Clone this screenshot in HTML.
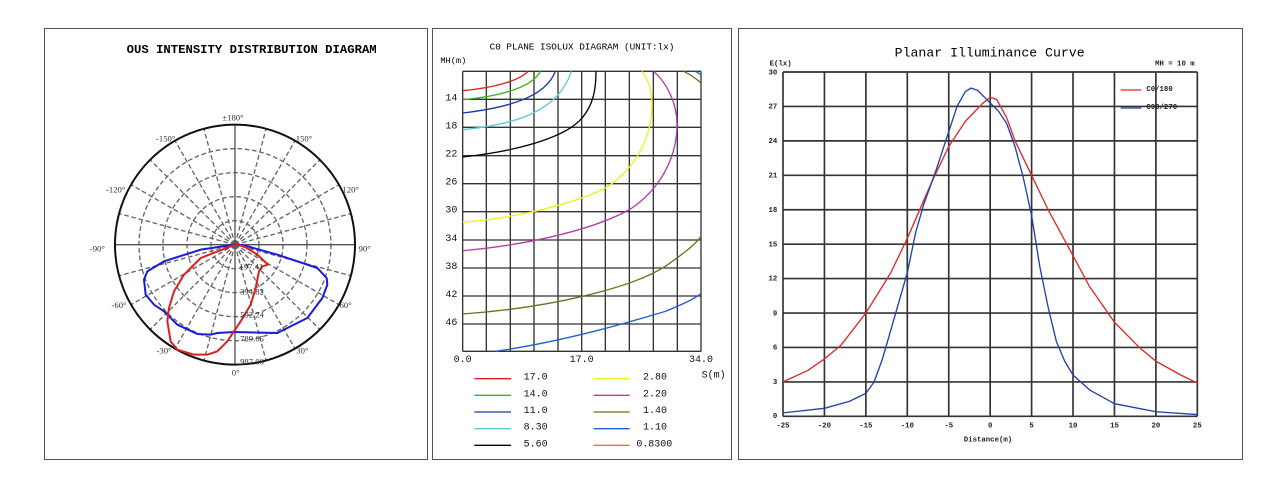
<!DOCTYPE html><html><head><meta charset="utf-8"><style>html,body{margin:0;padding:0;background:#fff;width:1277px;height:488px;overflow:hidden}</style></head><body>
<svg width="1277" height="488" viewBox="0 0 1277 488" xmlns="http://www.w3.org/2000/svg">
<rect x="44.5" y="28.5" width="383" height="431" fill="none" stroke="#555"/>
<rect x="432.5" y="28.5" width="299" height="431" fill="none" stroke="#555"/>
<rect x="738.5" y="28.5" width="504" height="431" fill="none" stroke="#555"/>

<!-- Panel 1 -->
<g transform="translate(44,28) scale(0.33333)">
<text x="623" y="75" text-anchor="middle" font-family="Liberation Mono,monospace" font-weight="bold" font-size="35" textLength="750" lengthAdjust="spacingAndGlyphs">OUS INTENSITY DISTRIBUTION DIAGRAM</text>
<g fill="none" stroke="#666" stroke-width="4" stroke-dasharray="14,8">
<circle cx="573" cy="650" r="72"/><circle cx="573" cy="650" r="144"/><circle cx="573" cy="650" r="216"/><circle cx="573" cy="650" r="288"/>
<g transform="translate(573,650)">
<line x1="0" y1="0" x2="0" y2="360" transform="rotate(15)"/><line x1="0" y1="0" x2="0" y2="360" transform="rotate(30)"/><line x1="0" y1="0" x2="0" y2="360" transform="rotate(45)"/><line x1="0" y1="0" x2="0" y2="360" transform="rotate(60)"/><line x1="0" y1="0" x2="0" y2="360" transform="rotate(75)"/><line x1="0" y1="0" x2="0" y2="360" transform="rotate(105)"/><line x1="0" y1="0" x2="0" y2="360" transform="rotate(120)"/><line x1="0" y1="0" x2="0" y2="360" transform="rotate(135)"/><line x1="0" y1="0" x2="0" y2="360" transform="rotate(150)"/><line x1="0" y1="0" x2="0" y2="360" transform="rotate(165)"/><line x1="0" y1="0" x2="0" y2="360" transform="rotate(195)"/><line x1="0" y1="0" x2="0" y2="360" transform="rotate(210)"/><line x1="0" y1="0" x2="0" y2="360" transform="rotate(225)"/><line x1="0" y1="0" x2="0" y2="360" transform="rotate(240)"/><line x1="0" y1="0" x2="0" y2="360" transform="rotate(255)"/><line x1="0" y1="0" x2="0" y2="360" transform="rotate(285)"/><line x1="0" y1="0" x2="0" y2="360" transform="rotate(300)"/><line x1="0" y1="0" x2="0" y2="360" transform="rotate(315)"/><line x1="0" y1="0" x2="0" y2="360" transform="rotate(330)"/><line x1="0" y1="0" x2="0" y2="360" transform="rotate(345)"/>
</g></g>
<line x1="213" y1="650" x2="933" y2="650" stroke="#555" stroke-width="4"/>
<line x1="573" y1="290" x2="573" y2="1010" stroke="#555" stroke-width="4"/>
<circle cx="573" cy="650" r="360" fill="none" stroke="#111" stroke-width="6"/>
<path d="M573,650 L470,665 L360,700 L310,730 L300,755 L305,800 L330,830 L360,850 L400,890 L460,918 L500,920 L520,915 L570,912 L700,915 L790,870 L835,810 L850,770 L848,750 L820,720 L700,680 L600,652 Z" fill="none" stroke="#1a1adc" stroke-width="6" stroke-linejoin="round"/>
<path d="M573,650 L470,690 L420,740 L390,790 L375,840 L370,880 L380,940 L400,965 L450,980 L490,980 L520,970 L550,940 L590,880 L620,830 L635,780 L645,730 L655,715 L672,710 L640,680 L600,655 Z" fill="none" stroke="#dc2020" stroke-width="6" stroke-linejoin="round"/>
<g font-family="Liberation Serif,serif" font-size="26" fill="#333">
<text x="567" y="277" text-anchor="middle">±180°</text>
<text x="365" y="340" text-anchor="middle">-150°</text><text x="780" y="340" text-anchor="middle">150°</text>
<text x="215" y="494" text-anchor="middle">-120°</text><text x="920" y="494" text-anchor="middle">120°</text>
<text x="160" y="670" text-anchor="middle">-90°</text><text x="962" y="670" text-anchor="middle">90°</text>
<text x="225" y="840" text-anchor="middle">-60°</text><text x="905" y="840" text-anchor="middle">60°</text>
<text x="360" y="977" text-anchor="middle">-30°</text><text x="775" y="977" text-anchor="middle">30°</text>
<text x="575" y="1042" text-anchor="middle">0°</text>
<text x="622" y="724" text-anchor="middle">197.41</text><text x="624" y="799" text-anchor="middle">394.82</text><text x="624" y="868" text-anchor="middle">592.24</text><text x="624" y="940" text-anchor="middle">789.65</text><text x="624" y="1010" text-anchor="middle">987.06</text>
</g>
</g>

<!-- Panel 2 -->
<g transform="translate(432,28) scale(0.33333)">
<text x="450" y="65" text-anchor="middle" font-family="Liberation Mono,monospace" font-size="28">C0 PLANE ISOLUX DIAGRAM (UNIT:lx)</text>
<text x="25" y="105" font-family="Liberation Mono,monospace" font-size="26">MH(m)</text>
<g stroke="#333" stroke-width="4">
<line x1="92" y1="130" x2="92" y2="970"/><line x1="163" y1="130" x2="163" y2="970"/><line x1="235" y1="130" x2="235" y2="970"/><line x1="306" y1="130" x2="306" y2="970"/><line x1="378" y1="130" x2="378" y2="970"/><line x1="449" y1="130" x2="449" y2="970"/><line x1="520" y1="130" x2="520" y2="970"/><line x1="592" y1="130" x2="592" y2="970"/><line x1="664" y1="130" x2="664" y2="970"/><line x1="736" y1="130" x2="736" y2="970"/><line x1="807" y1="130" x2="807" y2="970"/>
<line x1="92" y1="130" x2="807" y2="130"/><line x1="92" y1="214" x2="807" y2="214"/><line x1="92" y1="298" x2="807" y2="298"/><line x1="92" y1="383" x2="807" y2="383"/><line x1="92" y1="467" x2="807" y2="467"/><line x1="92" y1="551" x2="807" y2="551"/><line x1="92" y1="636" x2="807" y2="636"/><line x1="92" y1="720" x2="807" y2="720"/><line x1="92" y1="804" x2="807" y2="804"/><line x1="92" y1="888" x2="807" y2="888"/><line x1="92" y1="970" x2="807" y2="970"/>
</g>
<g fill="none" stroke-width="4">
<path d="M92,188 C180,180 260,160 288,130" stroke="#e02020"/>
<path d="M92,215 C200,205 300,180 325,130" stroke="#40b020"/>
<path d="M92,255 C220,240 340,210 370,130" stroke="#1a3ab0"/>
<path d="M92,305 C250,290 380,250 418,130" stroke="#5cc8d8"/>
<path d="M92,387 C250,370 400,330 450,270 C485,230 492,180 492,130" stroke="#000"/>
<path d="M92,583 C250,570 420,530 520,480 C600,430 660,340 660,230 C660,180 645,150 630,130" stroke="#f0f020"/>
<path d="M92,668 C300,650 500,600 600,540 C700,470 735,370 735,290 C735,220 700,160 665,130" stroke="#b040a8"/>
<path d="M92,858 C350,840 600,780 700,715 C750,680 790,650 807,625" stroke="#707020"/>
<path d="M755,130 Q785,145 807,165" stroke="#707020"/>
<path d="M190,970 C400,940 600,880 700,850 C750,830 790,810 807,797" stroke="#2060d0"/>
<path d="M790,130 L807,140" stroke="#2060d0"/>
</g>
<g font-family="Liberation Mono,monospace" font-size="30" fill="#111">
<text x="40" y="217">14</text><text x="40" y="301">18</text><text x="40" y="386">22</text><text x="40" y="470">26</text><text x="40" y="554">30</text><text x="40" y="639">34</text><text x="40" y="723">38</text><text x="40" y="807">42</text><text x="40" y="891">46</text>
<text x="92" y="1002" text-anchor="middle">0.0</text><text x="449" y="1002" text-anchor="middle">17.0</text><text x="807" y="1002" text-anchor="middle">34.0</text>
<text x="845" y="1048" text-anchor="middle">S(m)</text>
<text x="275" y="1055">17.0</text><text x="275" y="1105">14.0</text><text x="275" y="1155">11.0</text><text x="275" y="1205">8.30</text><text x="275" y="1255">5.60</text>
<text x="633" y="1055">2.80</text><text x="633" y="1105">2.20</text><text x="633" y="1155">1.40</text><text x="633" y="1205">1.10</text><text x="613" y="1255">0.8300</text>
</g>
<g stroke-width="4">
<line x1="127" y1="1052" x2="237" y2="1052" stroke="#e02020"/><line x1="127" y1="1102" x2="237" y2="1102" stroke="#40b020"/><line x1="127" y1="1152" x2="237" y2="1152" stroke="#1a3ab0"/><line x1="127" y1="1202" x2="237" y2="1202" stroke="#5cc8d8"/><line x1="127" y1="1252" x2="237" y2="1252" stroke="#000"/>
<line x1="485" y1="1052" x2="593" y2="1052" stroke="#f0f020"/><line x1="485" y1="1102" x2="593" y2="1102" stroke="#b040a8"/><line x1="485" y1="1152" x2="593" y2="1152" stroke="#707020"/><line x1="485" y1="1202" x2="593" y2="1202" stroke="#2060d0"/><line x1="485" y1="1252" x2="593" y2="1252" stroke="#f07030"/>
</g>
</g>

<!-- Panel 3 -->
<g transform="translate(738,28) scale(0.33333)">
<text x="755" y="85" text-anchor="middle" font-family="Liberation Mono,monospace" font-size="40" textLength="570" lengthAdjust="spacingAndGlyphs">Planar Illuminance Curve</text>
<g font-family="Liberation Mono,monospace" font-weight="bold" font-size="22" fill="#222">
<text x="95" y="112">E(lx)</text><text x="1370" y="112" text-anchor="end">MH = 10 m</text>
<text x="750" y="1241" text-anchor="middle">Distance(m)</text>
</g>
<g stroke="#333" stroke-width="5">
<line x1="135" y1="132" x2="135" y2="1165"/><line x1="259.3" y1="132" x2="259.3" y2="1165"/><line x1="383.6" y1="132" x2="383.6" y2="1165"/><line x1="507.9" y1="132" x2="507.9" y2="1165"/><line x1="632.2" y1="132" x2="632.2" y2="1165"/><line x1="756.5" y1="132" x2="756.5" y2="1165"/><line x1="880.8" y1="132" x2="880.8" y2="1165"/><line x1="1005.1" y1="132" x2="1005.1" y2="1165"/><line x1="1129.4" y1="132" x2="1129.4" y2="1165"/><line x1="1253.7" y1="132" x2="1253.7" y2="1165"/><line x1="1378" y1="132" x2="1378" y2="1165"/>
<line x1="135" y1="132" x2="1378" y2="132"/><line x1="135" y1="235.3" x2="1378" y2="235.3"/><line x1="135" y1="338.6" x2="1378" y2="338.6"/><line x1="135" y1="441.9" x2="1378" y2="441.9"/><line x1="135" y1="545.2" x2="1378" y2="545.2"/><line x1="135" y1="648.5" x2="1378" y2="648.5"/><line x1="135" y1="751.8" x2="1378" y2="751.8"/><line x1="135" y1="855.1" x2="1378" y2="855.1"/><line x1="135" y1="958.4" x2="1378" y2="958.4"/><line x1="135" y1="1061.7" x2="1378" y2="1061.7"/><line x1="135" y1="1165" x2="1378" y2="1165"/>
</g>
<g font-family="Liberation Mono,monospace" font-weight="bold" font-size="22" fill="#222" text-anchor="end">
<text x="118" y="139">30</text><text x="118" y="242">27</text><text x="118" y="345">24</text><text x="118" y="448">21</text><text x="118" y="552">18</text><text x="118" y="655">15</text><text x="118" y="758">12</text><text x="118" y="862">9</text><text x="118" y="965">6</text><text x="118" y="1068">3</text><text x="118" y="1170">0</text>
</g>
<g font-family="Liberation Mono,monospace" font-weight="bold" font-size="22" fill="#222" text-anchor="middle">
<text x="135" y="1198">-25</text><text x="259.3" y="1198">-20</text><text x="383.6" y="1198">-15</text><text x="507.9" y="1198">-10</text><text x="632.2" y="1198">-5</text><text x="756.5" y="1198">0</text><text x="880.8" y="1198">5</text><text x="1005.1" y="1198">10</text><text x="1129.4" y="1198">15</text><text x="1253.7" y="1198">20</text><text x="1378" y="1198">25</text>
</g>
<polyline fill="none" stroke="#e02828" stroke-width="4" stroke-linejoin="round" points="135,1061.7 209.6,1027.3 259.3,992.9 309,951.5 383.6,855.1 458.2,734.6 507.9,631.3 582.5,459.2 632.2,355.9 681.9,280.1 731.6,228.5 756.5,207.8 776.4,214.7 806.2,269.8 831.1,338.7 880.8,442 930.5,545.3 1005.1,683 1054.8,775.9 1129.4,882.7 1204,958.4 1253.7,999.7 1328.3,1041 1378,1065.2"/>
<polyline fill="none" stroke="#2040b0" stroke-width="4" stroke-linejoin="round" points="135,1154.7 259.3,1140.9 333.9,1120.2 383.6,1096.1 408.4,1061.7 433.3,992.9 458.2,906.8 483,820.7 507.9,734.6 532.8,614.1 557.6,528 594.9,424.8 632.2,311.1 657.1,235.4 681.9,190.6 699.3,180.3 719.2,187.2 756.5,225.1 781.4,249.2 806.2,287 831.1,355.9 855.9,448.9 880.8,562.5 905.7,717.4 930.5,837.9 955.4,941.2 980.2,999.7 1005.1,1041 1054.8,1085.8 1129.4,1127.1 1253.7,1151.2 1378,1159.8"/>
<line x1="1148" y1="186" x2="1210" y2="186" stroke="#e02828" stroke-width="4"/>
<line x1="1148" y1="240" x2="1210" y2="240" stroke="#2040b0" stroke-width="4"/>
<g font-family="Liberation Mono,monospace" font-weight="bold" font-size="22" fill="#222">
<text x="1225" y="189">C0/180</text><text x="1225" y="243">C90/270</text>
</g>
</g>
</svg>
</body></html>
